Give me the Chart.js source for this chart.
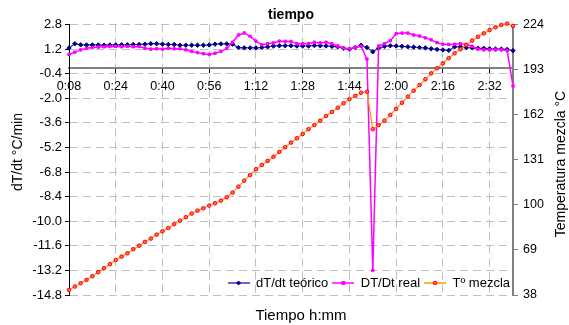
<!DOCTYPE html>
<html>
<head>
<meta charset="utf-8">
<script src="https://cdn.jsdelivr.net/npm/chart.js"></script>
<style>
  html, body { margin: 0; padding: 0; background: #fff; }
  canvas { display: block; }
</style>
</head>
<body>
<canvas id="grafico" width="569" height="325"></canvas>
<script>
// eje x: tiempo h:mm, un punto cada 2 min
const tiempos = [
  "0:08","0:10","0:12","0:14","0:16","0:18","0:20","0:22","0:24","0:26","0:28","0:30","0:32","0:34","0:36","0:38",
  "0:40","0:42","0:44","0:46","0:48","0:50","0:52","0:54","0:56","0:58","1:00","1:02","1:04","1:06","1:08","1:10",
  "1:12","1:14","1:16","1:18","1:20","1:22","1:24","1:26","1:28","1:30","1:32","1:34","1:36","1:38","1:40","1:42",
  "1:44","1:46","1:48","1:50","1:52","1:54","1:56","1:58","2:00","2:02","2:04","2:06","2:08","2:10","2:12","2:14",
  "2:16","2:18","2:20","2:22","2:24","2:26","2:28","2:30","2:32","2:34","2:36","2:38","2:40"
];

// dT/dt teórico (°C/min)
const dtTeorico = [
  1.27, 1.55, 1.48, 1.47, 1.47, 1.47, 1.45, 1.47, 1.47, 1.48, 1.48, 1.5, 1.5, 1.52, 1.55, 1.55,
  1.52, 1.5, 1.5, 1.45, 1.45, 1.45, 1.45, 1.45, 1.47, 1.52, 1.54, 1.54, 1.52, 1.3, 1.28, 1.28,
  1.28, 1.3, 1.35, 1.4, 1.42, 1.42, 1.42, 1.4, 1.4, 1.4, 1.43, 1.42, 1.4, 1.38, 1.35, 1.25,
  1.2, 1.3, 1.45, 1.3, 1.02, 1.25, 1.38, 1.42, 1.4, 1.38, 1.35, 1.33, 1.3, 1.28, 1.22, 1.18,
  1.15, 1.12, 1.35, 1.35, 1.3, 1.28, 1.25, 1.25, 1.22, 1.2, 1.2, 1.18, 1.1
];

// DT/Dt real (°C/min)
const dtReal = [
  0.85, 1.0, 1.15, 1.25, 1.3, 1.33, 1.35, 1.37, 1.38, 1.35, 1.38, 1.35, 1.37, 1.25, 1.2, 1.22,
  1.2, 1.25, 1.22, 1.22, 1.15, 1.05, 0.97, 0.9, 0.85, 0.93, 1.05, 1.25, 1.65, 2.12, 2.25, 2.03,
  1.72, 1.48, 1.55, 1.6, 1.72, 1.7, 1.7, 1.55, 1.55, 1.55, 1.65, 1.6, 1.65, 1.55, 1.4, 1.27,
  1.22, 1.3, 1.38, 0.55, -13.2, 1.4, 1.55, 1.75, 2.2, 2.24, 2.24, 2.12, 2.05, 1.93, 1.8, 1.62,
  1.52, 1.5, 1.52, 1.55, 1.5, 1.38, 1.2, 1.15, 1.15, 1.15, 1.15, 1.1, -1.2
];

// Tº mezcla (°C), eje derecho
const tMezcla = [
  41.5, 43.8, 46.1, 48.4, 50.9, 53.7, 56.4, 59.2, 62.1, 64.4, 66.7, 69.5, 71.9, 74.5, 76.8, 79.5,
  81.8, 84.1, 86.7, 89.1, 91.5, 94, 96, 97.6, 99.5, 101.1, 102.9, 105.2, 108.4, 112.5, 116.6, 120.5,
  124.5, 127.4, 130.2, 133.1, 136.4, 139.6, 142.8, 145.8, 148.7, 152, 154.9, 157.9, 161.1, 163.9, 166.8, 169.8,
  172.6, 174.9, 177.1, 177.8, 152, 154.9, 157.9, 161.8, 166, 170.2, 174.4, 178.5, 182.4, 186.3, 190.4, 193.9,
  197.3, 200.8, 204.2, 207, 209.9, 212.9, 215.6, 217.9, 220.2, 222.1, 223.7, 224.6, 223
];

const nombres = ["dT/dt teórico", "DT/Dt real", "Tº mezcla"];

const fuente = '"Liberation Sans", Arial, sans-serif';
Chart.defaults.font.family = fuente;
Chart.defaults.color = "#000";

// marcador de la leyenda: linea corta con el punto en el medio
const marca = (linea, relleno, borde, forma) => {
  const c = document.createElement("canvas");
  c.width = 22;
  c.height = 8;
  const g = c.getContext("2d");
  g.strokeStyle = linea;
  g.lineWidth = 1.5;
  g.beginPath();
  g.moveTo(0, 4);
  g.lineTo(22, 4);
  g.stroke();
  g.fillStyle = relleno;
  g.strokeStyle = borde;
  g.lineWidth = 1;
  g.beginPath();
  if (forma === "rombo") {
    g.moveTo(11, 2); g.lineTo(13, 4); g.lineTo(11, 6); g.lineTo(9, 4); g.closePath();
  } else if (forma === "cuadro") {
    g.rect(9.5, 2.5, 3, 3);
  } else {
    g.arc(11, 4, 1.8, 0, Math.PI * 2);
  }
  g.fill();
  g.stroke();
  return c;
};

const marcas = [
  marca("#3333cc", "#000080", "#000080", "rombo"),
  marca("#ff00ff", "#ff00ff", "#ff00ff", "cuadro"),
  marca("#ff9900", "#ff6666", "#ff0000", "circulo"),
];

// leyenda dentro del area del grafico y titulos de los ejes
const extras = {
  id: "extras",
  beforeLayout(chart) {
    const lg = chart.legend;
    if (!lg._fitOrig) {
      lg._fitOrig = lg.fit;
      lg.fit = function () {
        this._fitOrig();
        this._altoReal = this.height;
        this.height = 0;
      };
    }
  },
  afterLayout(chart) {
    const lg = chart.legend;
    const ca = chart.chartArea;
    lg.top = ca.bottom - 22.5;
    lg.bottom = lg.top + (lg._altoReal || 30);
    lg.left = ca.left;
    lg.right = ca.right + 1;
    lg.width = lg.right - lg.left;
  },
  afterDraw(chart) {
    const ctx = chart.ctx;
    const ca = chart.chartArea;
    ctx.save();
    ctx.fillStyle = "#000";
    ctx.textAlign = "center";
    ctx.textBaseline = "middle";
    ctx.font = "14px " + fuente;
    ctx.save();
    ctx.translate(chart.scales.y.left + 18.5, 152);
    ctx.rotate(-Math.PI / 2);
    ctx.fillText("dT/dt °C/min", 0, 0);
    ctx.restore();
    ctx.save();
    ctx.translate(chart.scales.y1.right - 8, 164);
    ctx.rotate(-Math.PI / 2);
    ctx.fillText("Temperatura mezcla °C", 0, 0);
    ctx.restore();
    ctx.font = "15px " + fuente;
    ctx.fillText("Tiempo h:mm", (ca.left + ca.right) / 2 + 10, ca.bottom + 21);
    ctx.restore();
  },
};

const gris = "#bfbfbf";

new Chart(document.getElementById("grafico"), {
  type: "line",
  data: {
    labels: tiempos,
    datasets: [
      {
        label: nombres[0],
        data: dtTeorico,
        yAxisID: "y",
        borderColor: "#3333cc",
        borderWidth: 1.2,
        pointStyle: "rectRot",
        pointRadius: 2.2,
        pointBackgroundColor: "#000080",
        pointBorderColor: "#000080",
        pointBorderWidth: 1,
        order: 3,
      },
      {
        label: nombres[1],
        data: dtReal,
        yAxisID: "y",
        borderColor: "#ff00ff",
        borderWidth: 1.5,
        pointStyle: "rect",
        pointRadius: 1.7,
        pointBackgroundColor: "#ff00ff",
        pointBorderColor: "#ff00ff",
        pointBorderWidth: 1,
        order: 2,
      },
      {
        label: nombres[2],
        data: tMezcla,
        yAxisID: "y1",
        borderColor: "#ff9900",
        borderWidth: 1.2,
        pointStyle: "circle",
        pointRadius: 1.8,
        pointBackgroundColor: "#ff6666",
        pointBorderColor: "#ff0000",
        pointBorderWidth: 1,
        clip: false,
        order: 1,
      },
    ],
  },
  options: {
    responsive: false,
    animation: false,
    devicePixelRatio: 1,
    events: [],
    layout: { padding: { left: 0, right: 0, top: 0, bottom: 30 } },
    elements: { line: { tension: 0 } },
    scales: {
      x: {
        type: "category",
        position: { y: 0 },
        offset: false,
        grid: {
          offset: false,
          color: (c) => (c.index % 8 === 0 ? gris : "rgba(0,0,0,0)"),
          tickColor: (c) => (c.index % 8 === 0 ? "#000" : "rgba(0,0,0,0)"),
          tickLength: 4,
        },
        border: { color: "#808080", width: 2, dash: [8, 5] },
        ticks: {
          autoSkip: false,
          maxRotation: 0,
          padding: 8,
          font: { size: 12.5 },
          callback: (v, i) => (i % 8 === 0 ? tiempos[i] : ""),
        },
      },
      y: {
        position: "left",
        min: -14.8,
        max: 2.8,
        grid: { color: gris, tickColor: "#000", tickLength: 4 },
        border: { color: "#000", width: 1, dash: [8, 5] },
        ticks: {
          stepSize: 1.6,
          padding: 3,
          font: { size: 13 },
          callback: (v) => v.toFixed(1),
        },
        afterFit: (s) => { s.width = 69; },
      },
      y1: {
        position: "right",
        min: 38,
        max: 224,
        grid: { drawOnChartArea: false, tickColor: "#808080", tickLength: 5 },
        border: { color: "#808080", width: 2 },
        ticks: { stepSize: 31, padding: 5, font: { size: 12.5 } },
        afterFit: (s) => { s.width = 56; },
      },
    },
    plugins: {
      tooltip: { enabled: false },
      title: {
        display: true,
        text: "tiempo",
        fullSize: false,
        font: { size: 14, weight: "bold" },
        padding: { top: 6.6, bottom: 1.1 },
      },
      legend: {
        position: "bottom",
        align: "end",
        fullSize: false,
        labels: {
          usePointStyle: true,
          pointStyleWidth: 22,
          boxHeight: 8,
          padding: 4,
          font: { size: 13 },
          generateLabels: (chart) =>
            chart.data.datasets.map((d, i) => ({
              text: d.label,
              pointStyle: marcas[i],
              fillStyle: d.borderColor,
              strokeStyle: d.borderColor,
              lineWidth: 0,
              hidden: false,
              datasetIndex: i,
            })),
        },
      },
    },
  },
  plugins: [extras],
});
</script>
</body>
</html>
